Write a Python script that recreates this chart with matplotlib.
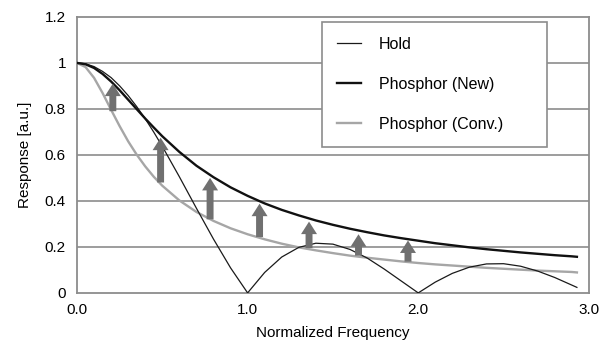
import matplotlib.pyplot as plt

plt.rcParams['font.family'] = ['Liberation Sans', 'DejaVu Sans']

# normalized frequency sample points
freq = [0.0, 0.05, 0.1, 0.15, 0.2, 0.25, 0.3, 0.35, 0.4, 0.45, 0.5,
        0.6, 0.7, 0.8, 0.9, 1.0,
        1.1, 1.2, 1.3, 1.4, 1.5, 1.6, 1.7, 1.8, 1.9, 2.0,
        2.1, 2.2, 2.3, 2.4, 2.5, 2.6, 2.7, 2.8, 2.9, 2.93]

hold = [1.0, 0.996, 0.984, 0.963, 0.936, 0.900, 0.858, 0.810, 0.757, 0.699, 0.637,
        0.505, 0.368, 0.234, 0.109, 0.0,
        0.089, 0.156, 0.198, 0.216, 0.212, 0.189, 0.152, 0.104, 0.052, 0.0,
        0.047, 0.085, 0.112, 0.126, 0.127, 0.116, 0.095, 0.067, 0.034, 0.024]

phosphor_new = [1.0, 0.994, 0.978, 0.952, 0.919, 0.881, 0.840, 0.799, 0.758, 0.719, 0.681,
                0.613, 0.553, 0.503, 0.459, 0.422,
                0.389, 0.361, 0.337, 0.315, 0.296, 0.279, 0.264, 0.250, 0.238, 0.227,
                0.216, 0.207, 0.198, 0.190, 0.183, 0.176, 0.170, 0.164, 0.159, 0.157]

phosphor_conv = [1.0, 0.982, 0.935, 0.869, 0.796, 0.725, 0.659, 0.601, 0.550, 0.505, 0.466,
                 0.402, 0.352, 0.313, 0.281, 0.255,
                 0.233, 0.214, 0.198, 0.185, 0.173, 0.162, 0.153, 0.145, 0.137, 0.130,
                 0.124, 0.119, 0.114, 0.109, 0.105, 0.101, 0.097, 0.094, 0.091, 0.089]

# improvement arrows: from conv curve up to new curve
arrow_x = [0.21, 0.49, 0.78, 1.07, 1.36, 1.65, 1.94]
arrow_from = [0.79, 0.48, 0.32, 0.243, 0.195, 0.162, 0.136]
arrow_to = [0.91, 0.675, 0.50, 0.388, 0.31, 0.255, 0.228]

fig = plt.figure(figsize=(6.13, 3.45), dpi=100)
ax = fig.add_axes([0.1256, 0.151, 0.835, 0.80])

grid_col = '#8c8c8c'
for yv in [0.2, 0.4, 0.6, 0.8, 1.0]:
    ax.axhline(yv, color=grid_col, lw=1.2, zorder=0)

ax.plot(freq, phosphor_conv, color='#a6a6a6', lw=1.7, label='Phosphor (Conv.)', zorder=2)
ax.plot(freq, hold, color='#1a1a1a', lw=0.9, label='Hold', zorder=3)
ax.plot(freq, phosphor_new, color='#111111', lw=1.7, label='Phosphor (New)', zorder=3)

for x, y0, y1 in zip(arrow_x, arrow_from, arrow_to):
    ax.annotate('', xy=(x, y1), xytext=(x, y0),
                arrowprops=dict(arrowstyle='simple,head_length=0.9,head_width=1.15,tail_width=0.5',
                                mutation_scale=10, color='#707070', lw=0,
                                shrinkA=0, shrinkB=0),
                zorder=4)

ax.set_xlim(0, 3.0)
ax.set_ylim(0, 1.2)
ax.set_xticks([0, 1, 2, 3])
ax.set_xticklabels(['0.0', '1.0', '2.0', '3.0'])
ax.set_yticks([0, 0.2, 0.4, 0.6, 0.8, 1.0, 1.2])
ax.set_yticklabels(['0', '0.2', '0.4', '0.6', '0.8', '1', '1.2'])
ax.tick_params(length=0, labelsize=11)
ax.tick_params(axis='x', pad=7)
ax.tick_params(axis='y', pad=8)
for s in ax.spines.values():
    s.set_color(grid_col)
    s.set_linewidth(1.3)

ax.set_xlabel('Normalized Frequency', fontsize=11, labelpad=7)
ax.set_ylabel('Response [a.u.]', fontsize=11, labelpad=9)

h, l = ax.get_legend_handles_labels()
order = [1, 2, 0]
leg = ax.legend([h[i] for i in order], [l[i] for i in order],
                loc='upper left', bbox_to_anchor=(0.479, 0.558, 0.439, 0.424),
                mode='expand', borderaxespad=0, fancybox=False,
                fontsize=11.5, labelspacing=1.55, handlelength=1.5,
                handletextpad=1.1, borderpad=0.95, framealpha=1)
leg.get_frame().set_edgecolor(grid_col)
leg.get_frame().set_linewidth(1.2)

fig.savefig('out.png', dpi=100)
